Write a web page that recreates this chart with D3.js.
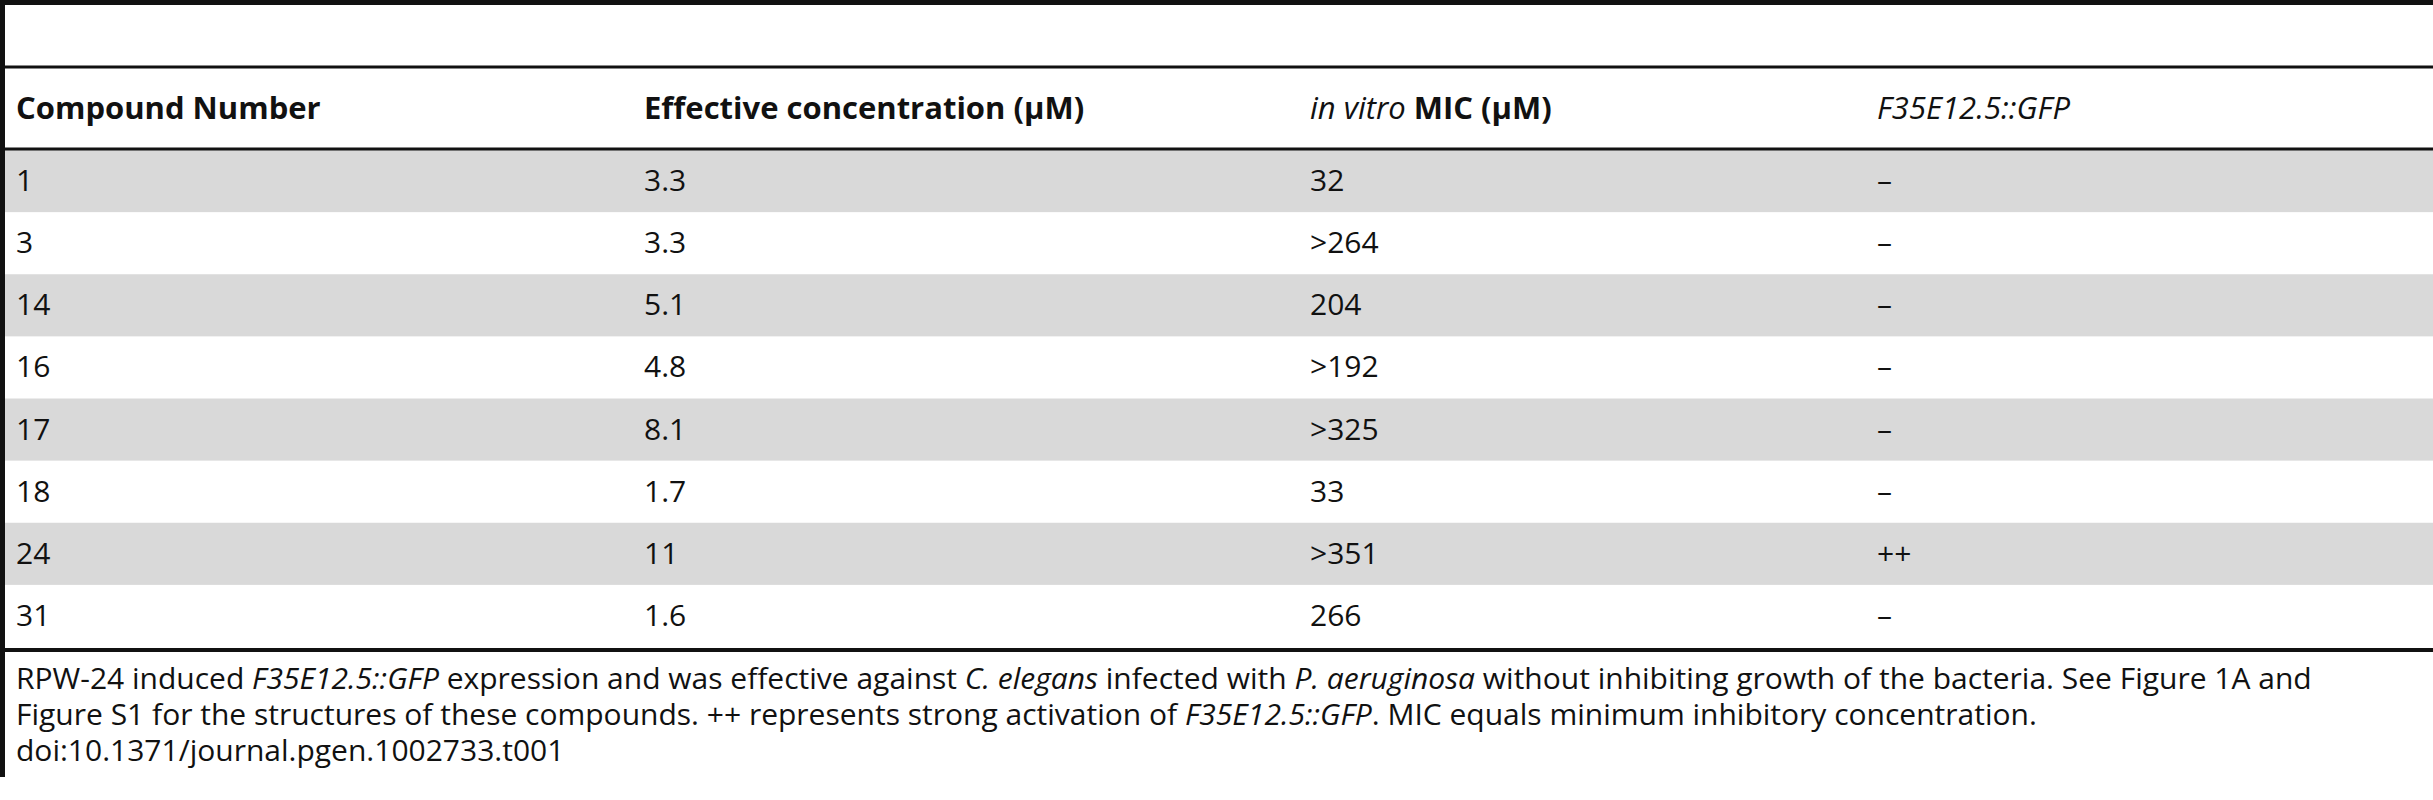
<!DOCTYPE html><html><head><meta charset="utf-8"><script src="https://cdn.jsdelivr.net/npm/d3@7"></script>
<style>body{margin:0;background:#fff}</style></head><body><script>
const headers=[["Compound Number"],["Effective concentration (μM)"],["in vitro MIC (μM)"],["F35E12.5::GFP"]];
const compounds=["1","3","14","16","17","18","24","31"];
const effective=["3.3","3.3","5.1","4.8","8.1","1.7","11","1.6"];
const mic=["32",">264","204",">192",">325","33",">351","266"];
const gfp=["–","–","–","–","–","–","++","–"];
const W=2433,H=800,F="Open Sans, sans-serif";
const svg=d3.select("body").append("svg").attr("width",W).attr("height",H);
const x=d3.scaleOrdinal().domain([0,1,2,3]).range([16,644,1310,1877]);
const y=d3.scaleBand().domain(d3.range(8)).range([150,647]);
svg.selectAll("rect.r").data(d3.range(8).filter(i=>i%2==0)).join("rect")
 .attr("x",5).attr("width",W).attr("y",i=>y(i)).attr("height",y.bandwidth()).attr("fill","#d9d9d9");
const line=(yy,w)=>svg.append("rect").attr("x",5).attr("y",yy-w/2).attr("width",W).attr("height",w).attr("fill","#111");
line(2.5,5);line(67,3);line(149,3);line(650,4);
svg.append("rect").attr("x",0).attr("y",0).attr("width",5).attr("height",777).attr("fill","#111");
const hy=119,fs=30,hfs=31;
function ht(i,parts){const t=svg.append("text").attr("x",x(i)).attr("y",hy).attr("font-family",F).attr("font-size",hfs).attr("font-weight","bold").attr("fill","#111");
 parts.forEach(p=>t.append("tspan").attr("font-style",p[1]?"italic":null).attr("font-weight",p[2]?"normal":null).text(p[0]));}
ht(0,[["Compound Number"]]);
ht(1,[["Effective concentration (μM)"]]);
ht(2,[["in vitro",1,1],[" MIC (μM)"]]);
ht(3,[["F35E12.5::GFP",1,1]]);
const cols=[compounds,effective,mic,gfp];
cols.forEach((c,ci)=>svg.selectAll(null).data(c).join("text").attr("x",x(ci)).attr("y",(d,i)=>y(i)+y.bandwidth()/2+10)
 .attr("font-family",F).attr("font-size",fs).attr("fill","#111").text(d=>d));
const cap=[[["RPW-24 induced "],["F35E12.5::GFP",1],[" expression and was effective against "],["C. elegans",1],[" infected with "],["P. aeruginosa",1],[" without inhibiting growth of the bacteria. See Figure 1A and"]],
[["Figure S1 for the structures of these compounds. ++ represents strong activation of "],["F35E12.5::GFP",1],[". MIC equals minimum inhibitory concentration."]],
[["doi:10.1371/journal.pgen.1002733.t001"]]];
cap.forEach((ln,i)=>{const t=svg.append("text").attr("x",16).attr("y",689+i*36).attr("font-family",F).attr("font-size",fs).attr("fill","#111");
 ln.forEach(p=>t.append("tspan").attr("font-style",p[1]?"italic":null).text(p[0]));});
</script></body></html>
